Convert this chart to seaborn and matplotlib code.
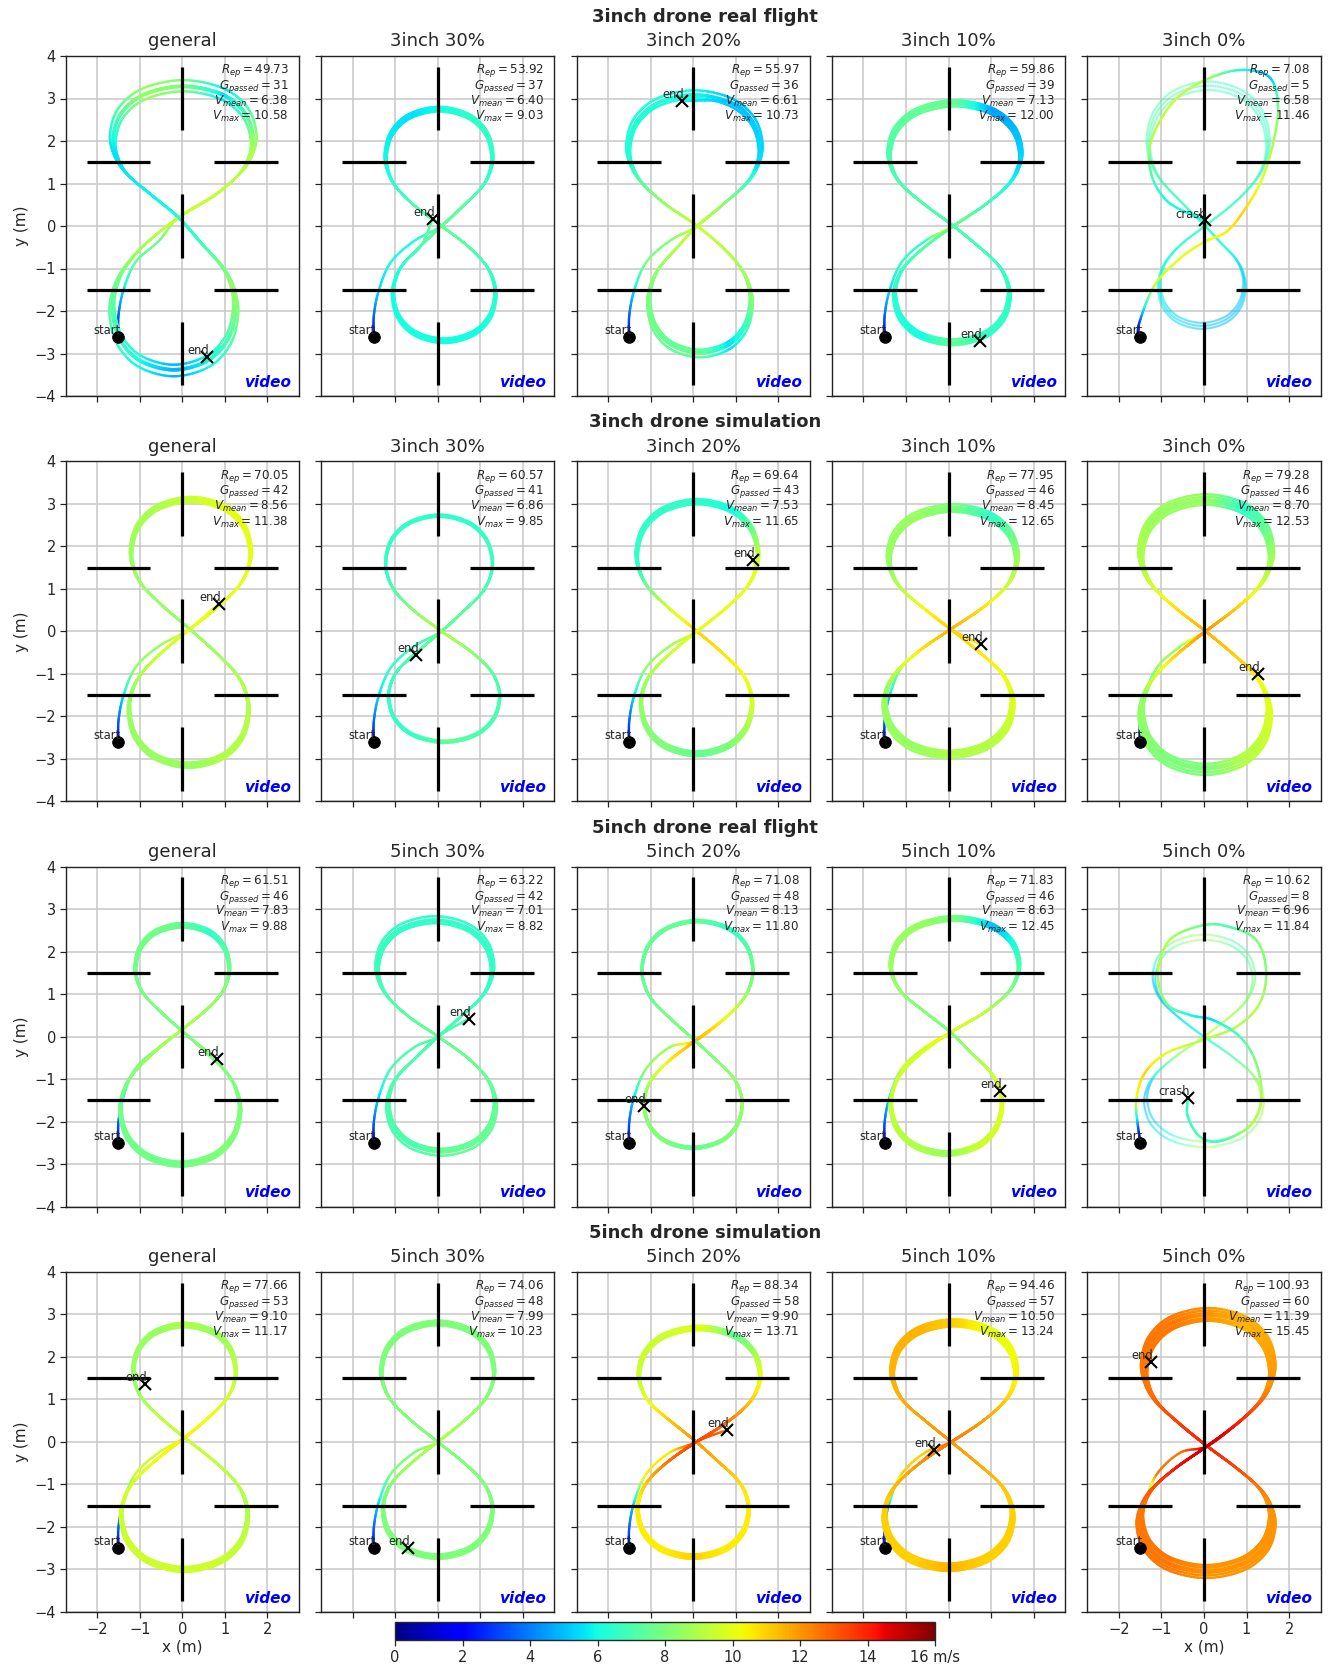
import numpy as np
import matplotlib
matplotlib.use("Agg")
import matplotlib.pyplot as plt
import seaborn as sns
from matplotlib.collections import LineCollection
from matplotlib import colors

sns.set_theme(style="ticks")
plt.rcParams["font.family"] = ["DejaVu Sans"]
plt.rcParams["mathtext.fontset"] = "dejavusans"

# ---------------------------------------------------------------- labels
row_titles = ["3inch drone real flight", "3inch drone simulation",
              "5inch drone real flight", "5inch drone simulation"]
col_titles = [["general", "3inch 30%", "3inch 20%", "3inch 10%", "3inch 0%"],
              ["general", "3inch 30%", "3inch 20%", "3inch 10%", "3inch 0%"],
              ["general", "5inch 30%", "5inch 20%", "5inch 10%", "5inch 0%"],
              ["general", "5inch 30%", "5inch 20%", "5inch 10%", "5inch 0%"]]

# ---------------------------------------------------------------- episode metrics
R_ep = [[49.73, 53.92, 55.97, 59.86, 7.08],
        [70.05, 60.57, 69.64, 77.95, 79.28],
        [61.51, 63.22, 71.08, 71.83, 10.62],
        [77.66, 74.06, 88.34, 94.46, 100.93]]
G_passed = [[31, 37, 36, 39, 5],
            [42, 41, 43, 46, 46],
            [46, 42, 48, 46, 8],
            [53, 48, 58, 57, 60]]
V_mean = [[6.38, 6.40, 6.61, 7.13, 6.58],
          [8.56, 6.86, 7.53, 8.45, 8.70],
          [7.83, 7.01, 8.13, 8.63, 6.96],
          [9.10, 7.99, 9.90, 10.50, 11.39]]
V_max = [[10.58, 9.03, 10.73, 12.00, 11.46],
         [11.38, 9.85, 11.65, 12.65, 12.53],
         [9.88, 8.82, 11.80, 12.45, 11.84],
         [11.17, 10.23, 13.71, 13.24, 15.45]]

# ---------------------------------------------------------------- start / end points
start_x = [[-1.5] * 5, [-1.5] * 5, [-1.5] * 5, [-1.5] * 5]
start_y = [[-2.6] * 5, [-2.6] * 5, [-2.5] * 5, [-2.5] * 5]
end_x = [[0.57, -0.12, -0.27, 0.74, 0.03],
         [0.85, -0.50, 1.41, 0.76, 1.26],
         [0.82, 0.73, -1.15, 1.20, -0.38],
         [-0.88, -0.70, 0.80, -0.34, -1.24]]
end_y = [[-3.08, 0.17, 2.94, -2.70, 0.13],
         [0.65, -0.55, 1.68, -0.31, -1.00],
         [-0.53, 0.42, -1.63, -1.27, -1.45],
         [1.37, -2.49, 0.28, -0.19, 1.88]]
end_label = [["end", "end", "end", "end", "crash"],
             ["end", "end", "end", "end", "end"],
             ["end", "end", "end", "end", "crash"],
             ["end", "end", "end", "end", "end"]]

# ---------------------------------------------------------------- loop geometry (m)
# upper loop half-width / x-offset / top, lower loop half-width / x-offset / bottom
loop_wu = [[1.65, 1.25, 1.55, 1.55, 1.40],
           [1.40, 1.25, 1.42, 1.50, 1.53],
           [1.10, 1.35, 1.30, 1.50, 1.20],
           [1.20, 1.32, 1.42, 1.45, 1.50]]
loop_xu = [[0.02, 0.03, 0.03, 0.15, 0.10],
           [0.20, 0.03, 0.10, 0.10, 0.05],
           [0.00, -0.07, 0.10, 0.15, 0.00],
           [0.05, 0.00, 0.15, 0.13, 0.10]]
loop_top = [[3.30, 2.75, 3.10, 2.90, 3.30],
            [3.10, 2.72, 3.05, 2.90, 3.10],
            [2.62, 2.75, 2.72, 2.78, 2.40],
            [2.75, 2.80, 2.68, 2.80, 3.00]]
loop_wl = [[1.45, 1.20, 1.20, 1.35, 1.00],
           [1.40, 1.30, 1.30, 1.50, 1.50],
           [1.40, 1.26, 1.15, 1.30, 1.40],
           [1.48, 1.28, 1.30, 1.50, 1.55]]
loop_xl = [[-0.20, 0.15, 0.16, 0.08, -0.05],
           [0.15, 0.15, 0.08, 0.00, 0.03],
           [-0.05, 0.09, 0.00, -0.05, 0.00],
           [0.05, 0.00, 0.00, 0.00, 0.05]]
loop_bottom = [[-3.40, -2.70, -3.00, -2.75, -2.35],
               [-3.15, -2.60, -2.88, -2.90, -3.25],
               [-3.00, -2.72, -2.62, -2.75, -2.60],
               [-3.00, -2.70, -2.70, -2.95, -3.05]]
cross_y = [[0.20, 0.00, 0.00, 0.00, 0.00],
           [0.05, 0.00, 0.00, 0.05, 0.00],
           [0.15, 0.00, -0.10, 0.10, 0.00],
           [0.10, 0.00, 0.00, 0.00, -0.10]]

# lap-to-lap size variation
lap_scale = [[[1.0, 0.96, 1.04, 0.99], [1.0, 0.98, 1.02, 1.0, 0.99],
              [1.0, 0.97, 1.03, 0.99], [1.0, 0.97, 1.02, 0.99, 1.01],
              [1.0, 0.97, 1.03]],
             [[1.0, 0.98, 1.02, 0.99, 1.01], [1.0, 0.99, 1.01, 1.0, 1.0],
              [1.0, 0.98, 1.02, 0.99, 1.01], [1.0, 0.97, 1.03, 0.99, 1.01, 0.98],
              [1.0, 0.96, 1.04, 0.98, 1.02, 0.99]],
             [[1.0, 0.98, 1.02, 1.0, 0.99, 1.01], [1.0, 0.97, 1.03, 1.0, 0.99],
              [1.0, 0.99, 1.01, 1.0, 1.0, 0.99], [1.0, 0.98, 1.02, 0.99, 1.01, 1.0],
              [1.0, 0.95]],
             [[1.0, 0.99, 1.01, 1.0, 0.98, 1.02, 1.0], [1.0, 0.98, 1.02, 1.0, 0.99, 1.01],
              [1.0, 0.98, 1.02, 0.99, 1.01, 1.0, 0.99],
              [1.0, 0.97, 1.03, 0.99, 1.01, 0.98, 1.02],
              [1.0, 0.95, 1.05, 0.97, 1.03, 0.99, 1.01, 0.96]]]

# speed (m/s) at: crossing up, right, top-right, top, top-left, left,
#                 crossing down, lower-right, bottom-right, bottom, bottom-left, lower-left
lap_speed = [[[9.5, 9.0, 5.5, 8.0, 8.5, 5.5, 6.0, 8.5, 6.0, 4.8, 6.0, 7.5],
              [7.5, 6.5, 6.5, 6.0, 5.5, 6.0, 7.5, 6.5, 6.0, 6.0, 6.0, 6.0],
              [9.5, 5.5, 5.0, 6.0, 6.2, 6.2, 9.5, 8.5, 5.5, 7.5, 7.5, 8.0],
              [7.5, 5.5, 4.5, 7.5, 7.5, 7.0, 7.0, 6.5, 6.5, 7.5, 6.0, 6.5],
              [6.5, 6.5, 6.5, 6.5, 7.0, 7.0, 6.5, 5.5, 5.0, 5.0, 5.5, 6.0]],
             [[10.0, 10.0, 10.0, 9.5, 9.0, 8.5, 8.5, 9.0, 9.0, 8.5, 8.5, 8.5],
              [7.5, 6.8, 6.5, 6.5, 6.5, 6.5, 9.0, 7.0, 7.0, 7.5, 6.5, 6.5],
              [10.0, 10.0, 6.0, 6.5, 6.5, 6.5, 11.0, 10.0, 8.0, 7.5, 8.0, 8.5],
              [11.5, 9.0, 6.5, 8.0, 8.5, 8.5, 11.0, 10.0, 9.0, 9.0, 8.5, 8.5],
              [12.0, 9.0, 6.5, 8.5, 8.5, 9.0, 11.5, 10.0, 9.0, 8.0, 8.0, 8.5]],
             [[9.0, 8.0, 6.5, 7.5, 7.8, 7.8, 8.0, 8.0, 8.0, 7.8, 7.8, 7.8],
              [7.0, 6.5, 6.5, 6.5, 6.5, 6.8, 7.5, 7.5, 7.5, 7.5, 7.0, 7.0],
              [11.5, 8.0, 6.5, 7.5, 7.5, 7.5, 8.0, 8.5, 8.0, 7.5, 8.0, 8.5],
              [10.0, 7.5, 5.0, 8.0, 8.5, 8.5, 8.0, 10.0, 9.5, 8.5, 9.0, 9.5],
              [9.5, 8.0, 7.0, 9.0, 8.0, 5.0, 6.0, 9.0, 8.0, 9.0, 6.0, 5.0]],
             [[10.5, 9.5, 8.5, 9.0, 8.5, 8.5, 9.5, 9.0, 9.5, 9.5, 9.5, 9.5],
              [9.0, 8.0, 8.0, 8.0, 8.0, 8.0, 8.0, 8.0, 8.0, 8.0, 8.0, 8.0],
              [13.5, 10.5, 7.5, 10.0, 9.5, 9.5, 12.0, 10.5, 10.5, 11.0, 10.5, 10.5],
              [12.5, 10.5, 10.0, 11.0, 11.5, 11.5, 12.0, 11.0, 11.0, 11.5, 11.0, 11.0],
              [15.0, 12.0, 11.5, 12.0, 12.5, 12.5, 14.0, 12.0, 12.0, 12.0, 12.5, 12.5]]]

# crossing speed on the first lap, where it differs from the later laps
first_cross = [[None, None, None, 11.0, None],
               [None, None, None, None, None],
               [None, None, None, 11.5, None],
               [None, None, None, 13.0, None]]

# take-off leg, relative to the start point, and its speed
takeoff_dx = [0.0, 0.0, 0.12, 0.40, 0.95]
takeoff_dy = [0.0, 0.50, 1.10, 1.75, 2.25]
takeoff_v = [1.5, 3.5, 5.5]

# normalised figure-eight lap (upper loop, then lower loop), with key-speed index
upper_u = [0.45, 0.80, 0.96, 1.00, 0.88, 0.55, 0.0, -0.55, -0.88, -1.00, -0.96, -0.80, -0.45]
upper_v = [0.17, 0.33, 0.47, 0.62, 0.80, 0.94, 1.0, 0.94, 0.80, 0.62, 0.47, 0.33, 0.17]
upper_key = [0.3, 0.7, 1.0, 1.2, 1.6, 2.0, 3.0, 4.0, 4.4, 4.8, 5.0, 5.3, 5.7]
lower_u = upper_u
lower_v = [-v for v in upper_v]
lower_key = [k + 6 for k in upper_key]

# crashed episodes (bright path to the crash point)
crash1_x = [-1.55, -1.51, -1.16, -0.57, 0.0, 0.52, 0.92, 1.35, 1.62, 1.74, 1.54,
            0.84, 0.0, -0.73, -1.24, -1.24, -0.88, -0.26, 0.03]
crash1_y = [-2.58, -2.25, -1.39, -0.77, -0.38, -0.14, 0.33, 1.07, 1.93, 2.80, 3.50,
            3.67, 3.42, 2.91, 2.01, 1.23, 0.60, 0.25, 0.13]
crash1_v = [1.5, 3.0, 9.5, 10.0, 10.0, 10.5, 11.0, 10.0, 9.0, 8.0, 5.0,
            6.0, 9.0, 9.5, 9.0, 7.0, 6.0, 6.0, 6.0]
crash2_x = [-1.49, -1.55, -1.59, -1.39, -0.88, -0.02, 0.76, 1.31, 1.46, 1.23, 0.60,
            -0.02, -0.81, -1.08, -0.88, -0.34, 0.21, 0.84, 1.23, 1.35, 1.07, 0.37,
            -0.10, -0.38, -0.38]
crash2_y = [-2.48, -2.11, -1.49, -0.86, -0.39, -0.08, 0.23, 0.78, 1.56, 2.27, 2.58,
            2.62, 2.27, 1.49, 0.78, 0.51, 0.39, 0.0, -0.63, -1.49, -2.11, -2.46,
            -2.35, -1.88, -1.45]
crash2_v = [1.5, 3.5, 10.0, 11.0, 10.0, 9.0, 9.0, 9.0, 8.0, 8.0, 7.0, 7.5, 9.0,
            9.0, 8.0, 6.0, 5.5, 7.0, 8.0, 9.0, 9.0, 6.5, 7.0, 6.5, 6.5]
crash_paths = {(0, 4): (crash1_x, crash1_y, crash1_v),
               (2, 4): (crash2_x, crash2_y, crash2_v)}

# gate bars: (x0, x1, y0, y1)
gate_bars = [(0, 0, 2.25, 3.75), (0, 0, -0.75, 0.75), (0, 0, -3.75, -2.25),
             (-2.25, -0.75, 1.5, 1.5), (0.75, 2.25, 1.5, 1.5),
             (-2.25, -0.75, -1.5, -1.5), (0.75, 2.25, -1.5, -1.5)]

cb_ticks = [0, 2, 4, 6, 8, 10, 12, 14, 16]
cb_labels = ["0", "2", "4", "6", "8", "10", "12", "14", "16 m/s"]

cmap = plt.get_cmap("jet")
norm = colors.Normalize(vmin=0, vmax=16)


def catmull_rom(P, V, n=14):
    P = np.asarray(P, float)
    V = np.asarray(V, float)
    Pp = np.vstack([P[0], P, P[-1]])
    Vp = np.concatenate([[V[0]], V, [V[-1]]])
    t = np.linspace(0, 1, n, endpoint=False)[:, None]
    pts, vs = [], []
    for i in range(1, len(Pp) - 2):
        p0, p1, p2, p3 = Pp[i - 1], Pp[i], Pp[i + 1], Pp[i + 2]
        seg = 0.5 * (2 * p1 + (-p0 + p2) * t + (2 * p0 - 5 * p1 + 4 * p2 - p3) * t ** 2
                     + (-p0 + 3 * p1 - 3 * p2 + p3) * t ** 3)
        pts.append(seg)
        vs.append(Vp[i] + (Vp[i + 1] - Vp[i]) * t[:, 0])
    pts.append(P[-1:])
    vs.append(V[-1:])
    return np.vstack(pts), np.concatenate(vs)


def lap_points(r, c, s, cross=None):
    keys = list(lap_speed[r][c])
    if cross is not None:
        keys[0] = cross
    keys = keys + [lap_speed[r][c][0]]
    xu, xl = loop_xu[r][c], loop_xl[r][c]
    yc = cross_y[r][c] * s
    xc = (xu + xl) / 2
    pts, spd = [], []
    pts.append((xc, yc)); spd.append(keys[0])
    for u, v, k in zip(upper_u, upper_v, upper_key):
        pts.append((xu + u * loop_wu[r][c] * s, yc + v * (loop_top[r][c] * s - yc)))
        spd.append(np.interp(k, range(13), keys))
    pts.append((xc, yc)); spd.append(keys[6])
    for u, v, k in zip(lower_u, lower_v, lower_key):
        pts.append((xl + u * loop_wl[r][c] * s, yc - v * (loop_bottom[r][c] * s - yc)))
        spd.append(np.interp(k, range(13), keys))
    return pts, spd


def draw_path(ax, P, V, lw=1.7, alpha=1.0, z=3):
    pts, vs = catmull_rom(P, V)
    segs = np.stack([pts[:-1], pts[1:]], axis=1)
    cols = cmap(norm(0.5 * (vs[:-1] + vs[1:])))
    lc = LineCollection(segs, colors=cols, linewidths=lw, alpha=alpha,
                        capstyle="round", joinstyle="round", zorder=z)
    ax.add_collection(lc)


W, H = 1328, 1666
fig = plt.figure(figsize=(W / 100, H / 100), dpi=100)
col_left = [65.7 + 255.4 * c for c in range(5)]
row_top = [56.0 + 405.3 * r for r in range(4)]
ax_w, ax_h = 233.3, 340.0

for r in range(4):
    fig.text(705 / W, 1 - (row_top[r] - 39) / H, row_titles[r], ha="center",
             va="center", fontsize=13, fontweight="bold")
    for c in range(5):
        ax = fig.add_axes([col_left[c] / W, 1 - (row_top[r] + ax_h) / H,
                           ax_w / W, ax_h / H])
        ax.set_xlim(-2.74, 2.74)
        ax.set_ylim(-4, 4)
        ax.set_xticks([-2, -1, 0, 1, 2])
        ax.set_yticks(range(-4, 5))
        ax.grid(True, color="#c8c8c8", lw=1.1)
        ax.set_axisbelow(True)
        for sp in ax.spines.values():
            sp.set_color("#222222")
            sp.set_linewidth(1.0)
        ax.tick_params(direction="out", length=4, width=0.9, color="#222222",
                       labelsize=10.5, pad=3)
        ax.set_title(col_titles[r][c], fontsize=13, pad=7)

        sx, sy = start_x[r][c], start_y[r][c]
        ex, ey = end_x[r][c], end_y[r][c]

        if (r, c) in crash_paths:
            # earlier laps shown faded, the crashed run on top
            for s in lap_scale[r][c]:
                P, V = [], []
                for _ in range(2):
                    p, v = lap_points(r, c, s)
                    P += p; V += v
                P.append(P[0]); V.append(V[0])
                draw_path(ax, P, V, lw=1.6, alpha=0.17, z=2)
            cx, cy, cv = crash_paths[(r, c)]
            draw_path(ax, list(zip(cx, cy)), cv, lw=1.7, z=3)
        else:
            P = [(sx + dx, sy + dy) for dx, dy in zip(takeoff_dx, takeoff_dy)]
            V = takeoff_v + [lap_speed[r][c][11], lap_speed[r][c][11]]
            for i, s in enumerate(lap_scale[r][c]):
                p, v = lap_points(r, c, s, first_cross[r][c] if i == 0 else None)
                P += p; V += v
            # final partial lap up to the end point
            p, v = lap_points(r, c, lap_scale[r][c][0])
            d = [np.hypot(px - ex, py - ey) for px, py in p]
            k = int(np.argmin(d))
            P += p[:k]; V += v[:k]
            P.append((ex, ey)); V.append(v[k])
            draw_path(ax, P, V, lw=1.7, z=3)

        for x0, x1, y0, y1 in gate_bars:
            ax.plot([x0, x1], [y0, y1], color="black", lw=2.3, zorder=5,
                    solid_capstyle="butt")

        sns.scatterplot(x=[sx], y=[sy], ax=ax, color="black", s=70,
                        edgecolor="black", zorder=7, legend=False)
        ax.text(sx + 0.05, sy + 0.07, "start", ha="right", va="baseline",
                fontsize=8.3, zorder=8)
        ax.plot([ex], [ey], marker="x", color="black", ms=8, mew=1.5, zorder=7)
        ax.text(ex + 0.05, ey + 0.07, end_label[r][c], ha="right", va="baseline",
                fontsize=8.3, zorder=8)

        stats = [r"$R_{ep} = %.2f$" % R_ep[r][c],
                 r"$G_{passed} = %d$" % G_passed[r][c],
                 r"$V_{mean} = %.2f$" % V_mean[r][c],
                 r"$V_{max} = %.2f$" % V_max[r][c]]
        for i, s in enumerate(stats):
            ax.text(0.955, 0.949 - 0.046 * i, s, transform=ax.transAxes,
                    ha="right", va="baseline", fontsize=8.6, zorder=8)
        ax.text(0.965, 0.018, "video", transform=ax.transAxes, ha="right",
                va="bottom", color="#0000ff", fontsize=11, fontweight="bold",
                fontstyle="italic", zorder=8)

        show_x = (r == 3 and c in (0, 4))
        if not show_x:
            ax.set_xticklabels([])
        else:
            ax.set_xlabel("x (m)", fontsize=11, labelpad=2)
        if c != 0:
            ax.set_yticklabels([])
        else:
            ax.set_ylabel("y (m)", fontsize=11, labelpad=4)

cax = fig.add_axes([395 / W, 1 - 1640 / H, 540 / W, 18 / H])
sm = plt.cm.ScalarMappable(norm=norm, cmap=cmap)
cb = fig.colorbar(sm, cax=cax, orientation="horizontal", ticks=cb_ticks)
cb.ax.set_xticklabels(cb_labels)
cb.ax.tick_params(labelsize=10.5, length=4, width=0.9, direction="out")
cb.outline.set_linewidth(1.0)

fig.savefig("out.png", dpi=100)
